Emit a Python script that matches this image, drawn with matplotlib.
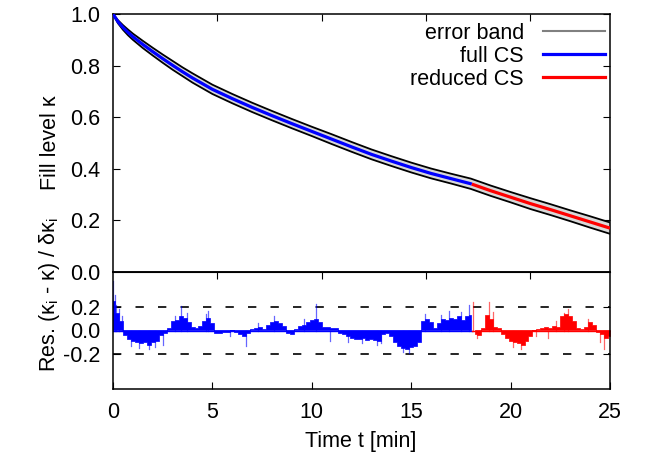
import numpy as np
import matplotlib
matplotlib.use("Agg")
import matplotlib.pyplot as plt
from matplotlib.lines import Line2D

plt.rcParams['font.family'] = ['Liberation Sans', 'DejaVu Sans']
plt.rcParams['mathtext.fontset'] = 'custom'
plt.rcParams['mathtext.rm'] = 'Liberation Sans'
plt.rcParams['mathtext.it'] = 'Liberation Sans'

# ---------------- data ----------------
t_fill = [0, 0.25, 0.5, 0.75, 1, 1.5, 2, 2.5, 3, 3.5, 4, 4.5, 5, 6, 7, 8, 9, 10,
          11, 12, 13, 14, 15, 16, 17, 18, 19, 20, 21, 22, 23, 24, 25]
kappa = [1.0, 0.970, 0.948, 0.929, 0.912, 0.882, 0.854, 0.827, 0.801, 0.776,
         0.752, 0.730, 0.708, 0.672, 0.638, 0.606, 0.575, 0.545, 0.515, 0.485,
         0.456, 0.430, 0.405, 0.382, 0.362, 0.342, 0.315, 0.290, 0.265, 0.242,
         0.218, 0.194, 0.170]
err_half = [0.0, 0.006, 0.009, 0.011, 0.012, 0.014, 0.015, 0.016, 0.017, 0.017,
            0.018, 0.018, 0.018, 0.018, 0.018, 0.018, 0.018, 0.018, 0.019, 0.019,
            0.019, 0.019, 0.019, 0.019, 0.019, 0.020, 0.020, 0.020, 0.021, 0.021,
            0.021, 0.022, 0.022]
t_switch = 18.05  # full CS -> reduced CS

t_res = [round(0.2 * i, 1) for i in range(126)]
res = [0.25, 0.15, 0.08, -0.04, -0.07, -0.09, -0.10, -0.11, -0.10, -0.12,
       -0.10, -0.09, -0.04, -0.02, 0.02, 0.08, 0.09, 0.12, 0.11, 0.07,
       0.03, 0.02, 0.04, 0.08, 0.11, 0.06, -0.02, -0.02, -0.01, -0.01,
       0.00, -0.01, -0.03, -0.05, -0.02, 0.01, 0.02, 0.03, 0.01, 0.05,
       0.07, 0.08, 0.06, 0.04, -0.02, -0.03, 0.01, 0.04, 0.05, 0.07,
       0.09, 0.10, 0.07, 0.03, 0.03, 0.02, 0.02, -0.02, -0.03, -0.05,
       -0.06, -0.07, -0.07, -0.06, -0.08, -0.07, -0.08, -0.09, -0.03, -0.02,
       -0.05, -0.10, -0.13, -0.15, -0.16, -0.14, -0.13, -0.10, 0.08, 0.10,
       0.07, 0.02, 0.06, 0.10, 0.09, 0.11, 0.10, 0.12, 0.09, 0.12,
       0.13, -0.03, -0.04, 0.02, 0.13, 0.10, 0.03, 0.02, -0.03, -0.06,
       -0.09, -0.10, -0.11, -0.12, -0.09, -0.05, 0.00, 0.01, 0.02, 0.03,
       0.02, 0.04, 0.03, 0.12, 0.14, 0.12, 0.08, 0.02, 0.01, 0.03,
       0.07, 0.05, -0.01, -0.03, -0.06, -0.05]
spike_t = [0.02, 0.08, 0.14, 0.3, 0.45, 0.9, 1.3, 1.8, 2.1, 2.5, 3.1, 3.4, 3.7,
           4.7, 4.8, 5.9, 6.7, 7.3, 8.1, 9.6, 10.2, 10.9, 11.8, 12.5, 13.3,
           13.5, 14.6, 14.9, 15.7, 16.5, 16.9, 17.5, 17.9, 18.1, 18.3, 18.9,
           19.1, 20.1, 20.5, 21.3, 21.9, 22.3, 22.7, 22.9, 23.9, 24.5, 24.7]
spike_v = [0.42, 0.30, 0.22, 0.18, 0.12, -0.13, -0.15, -0.16, -0.14, -0.12,
           0.12, 0.21, 0.15, 0.14, 0.17, -0.05, -0.13, 0.06, 0.12, 0.10, 0.23,
           -0.09, -0.10, -0.11, -0.12, -0.11, -0.18, -0.19, 0.14, 0.13, 0.17,
           0.16, 0.22, 0.24, -0.06, 0.24, 0.16, -0.14, -0.16, -0.05, -0.06, 0.08,
           0.15, 0.18, 0.10, -0.10, -0.16]
res_lines = [-0.2, 0.2]

x_ticks = [0, 5, 10, 15, 20, 25]
x_top_ticks = [5.25, 10.5, 15.75, 21.0]
y_ticks_top = [0.0, 0.2, 0.4, 0.6, 0.8, 1.0]
y_ticks_bot = [-0.2, 0.0, 0.2]

# ---------------- figure ----------------
fig = plt.figure(figsize=(6.5, 4.63), dpi=100)
W, H = 650, 463
ax1 = fig.add_axes([113 / W, 1 - 272 / H, 497 / W, 258 / H])
ax2 = fig.add_axes([113 / W, 1 - 389 / H, 497 / W, 117 / H])

FS = 15.5
BLUE = '#0000ff'
RED = '#ff0000'

# top panel
tf = np.array(t_fill)
k = np.array(kappa)
e = np.array(err_half)
ax1.fill_between(tf, k - e, k + e, color='#d8d8d8', lw=0, zorder=1)
ax1.plot(tf, k + e, color='black', lw=1.3, zorder=2)
ax1.plot(tf, k - e, color='black', lw=1.3, zorder=2)
kswitch = np.interp(t_switch, tf, k)
m1 = tf < t_switch
ax1.plot(np.append(tf[m1], t_switch), np.append(k[m1], kswitch), color=BLUE, lw=2.3,
         zorder=3, solid_capstyle='butt')
m2 = tf > t_switch
ax1.plot(np.insert(tf[m2], 0, t_switch), np.insert(k[m2], 0, kswitch), color=RED, lw=2.3,
         zorder=3, solid_capstyle='butt')

ax1.set_xlim(0, 25)
ax1.set_ylim(0, 1)
ax1.set_yticks(y_ticks_top)
ax1.set_yticklabels([f"{v:.1f}" for v in y_ticks_top])
ax1.set_xticks(x_top_ticks)
ax1.tick_params(axis='x', which='both', direction='in', top=True, bottom=False,
                labelbottom=False, length=5)
ax1.tick_params(axis='y', direction='in', left=True, right=True, length=5,
                labelsize=FS, pad=9)

handles = [Line2D([], [], color='#808080', lw=1.5),
           Line2D([], [], color=BLUE, lw=2.3),
           Line2D([], [], color=RED, lw=2.3)]
ax1.legend(handles, ['error band', 'full CS', 'reduced CS'], loc='upper right',
           bbox_to_anchor=(0.995, 0.978), markerfirst=False, frameon=False,
           fontsize=FS, handlelength=2.85, handletextpad=0.9, labelspacing=0.1,
           borderaxespad=0.14, borderpad=0.0)

# bottom panel
tr = np.array(t_res)
r = np.array(res)
mb = tr < t_switch
ax2.fill_between(tr[mb], 0, r[mb], step='mid', color=BLUE, lw=0.5,
                 edgecolor=BLUE, zorder=2)
mr = tr > t_switch
ax2.fill_between(tr[mr], 0, r[mr], step='mid', color=RED, lw=0.5,
                 edgecolor=RED, zorder=2)
for st, sv in zip(spike_t, spike_v):
    ax2.plot([st, st], [0, sv], color=BLUE if st < t_switch else RED, lw=0.9,
             alpha=0.6, zorder=2)
ax2.axhline(0, color=BLUE, lw=1.0, xmax=t_switch / 25, zorder=2)
ax2.axhline(0, color=RED, lw=1.0, xmin=t_switch / 25, zorder=2)
for yv in res_lines:
    ax2.axhline(yv, color='black', lw=1.2, ls=(0, (5, 8.5)), zorder=1)

ax2.set_xlim(0, 25)
ax2.set_ylim(-0.5, 0.5)
ax2.set_yticks(y_ticks_bot)
ax2.set_yticklabels([f"{v:.1f}" for v in y_ticks_bot])
ax2.set_xticks(x_ticks)
ax2.set_xticklabels([str(v) for v in x_ticks])
ax2.tick_params(axis='both', direction='in', length=5, labelsize=FS)
ax2.tick_params(axis='x', pad=9)
ax2.tick_params(axis='y', right=True, pad=9)
sec = ax2.secondary_xaxis('top')
sec.set_xticks(x_top_ticks)
sec.tick_params(direction='in', length=5, labeltop=False)

for ax in (ax1, ax2):
    for s in ax.spines.values():
        s.set_linewidth(1.1)

fig.text(50 / W, 1 - 143 / H, 'Fill level κ', rotation=90, ha='center', va='center',
         fontsize=FS)
fig.text(50 / W, 1 - 295 / H, r'Res. (κ$_\mathregular{i}$ - κ) / δκ$_\mathregular{i}$',
         rotation=90, ha='center', va='center', fontsize=FS)
fig.text(361 / W, 1 - 441 / H, 'Time t [min]', ha='center', va='center', fontsize=FS)

fig.savefig('out.png', dpi=100)
